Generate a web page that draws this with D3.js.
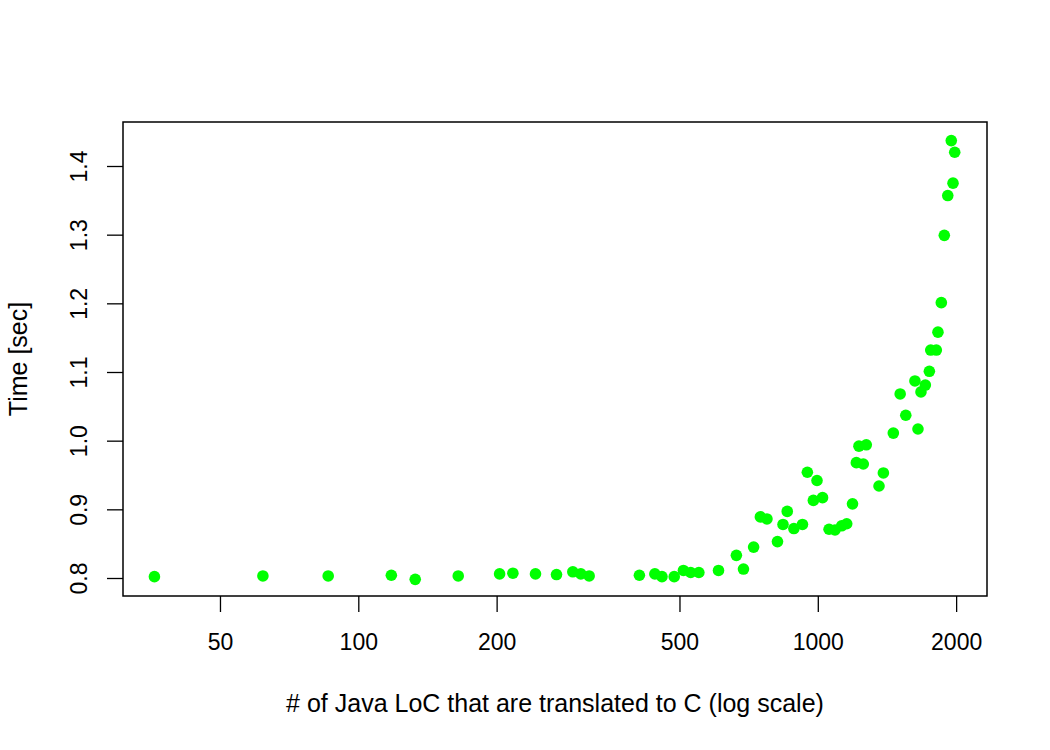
<!DOCTYPE html>
<html>
<head>
<meta charset="utf-8">
<script src="https://cdn.jsdelivr.net/npm/d3@7"></script>
<style>
  html, body { margin: 0; padding: 0; background: #fff; }
  svg { display: block; }
  text { font-family: "Liberation Sans", Arial, Helvetica, sans-serif; fill: #000; }
</style>
</head>
<body>
<svg id="chart" width="1050" height="750"></svg>
<script>
// ---- Data ----
const loc = [36, 62, 86, 118, 133, 165, 203, 217, 243, 270, 293, 305, 318,
  409, 442, 458, 487, 510, 529, 551, 608, 665, 689, 725, 750, 775, 817, 840,
  858, 887, 926, 949, 978, 996, 1024, 1058, 1090, 1127, 1156, 1190, 1213,
  1256, 1229, 1275, 1359, 1389, 1460, 1554, 1652, 1511, 1627, 1677, 1714,
  1952, 1986, 1969, 1918, 1885, 1857, 1826, 1761, 1811, 1749];
const timeSec = [0.802, 0.803, 0.803, 0.804, 0.798, 0.803, 0.806, 0.807, 0.806, 0.805, 0.809, 0.806, 0.803,
  0.804, 0.806, 0.802, 0.802, 0.811, 0.808, 0.808, 0.811, 0.833, 0.813, 0.845, 0.889, 0.886, 0.853, 0.878,
  0.897, 0.872, 0.878, 0.954, 0.913, 0.942, 0.917, 0.871, 0.870, 0.876, 0.879, 0.908, 0.968,
  0.966, 0.992, 0.994, 0.934, 0.953, 1.011, 1.037, 1.017, 1.068, 1.087, 1.071, 1.081,
  1.437, 1.420, 1.375, 1.357, 1.299, 1.201, 1.158, 1.132, 1.132, 1.101];
const xTicks = [50, 100, 200, 500, 1000, 2000];
const yTicks = [0.8, 0.9, 1.0, 1.1, 1.2, 1.3, 1.4];
const xTitle = "# of Java LoC that are translated to C (log scale)";
const yTitle = "Time [sec]";

// ---- Layout ----
const box = { left: 123, right: 987, top: 122, bottom: 596 };
const svg = d3.select("#chart");
const tickFont = 23, titleFont = 25;

// log x scale: 100 -> 358.3 px, 459.5 px per decade
const pxPerDecade = 459.5;
const x = d3.scaleLog()
  .domain([Math.pow(10, 2 - (358.3 - box.left) / pxPerDecade),
           Math.pow(10, 2 + (box.right - 358.3) / pxPerDecade)])
  .range([box.left, box.right]);

// y scale: 0.8 -> 578, 1.4 -> 166
const pxPerUnit = (578 - 166) / 0.6;
const y = d3.scaleLinear()
  .domain([0.8 - (box.bottom - 578) / pxPerUnit, 1.4 + (166 - box.top) / pxPerUnit])
  .range([box.bottom, box.top]);

// Points
svg.append("g").selectAll("circle")
  .data(loc.map((d, i) => [d, timeSec[i]]))
  .join("circle")
  .attr("cx", d => x(d[0]))
  .attr("cy", d => y(d[1]))
  .attr("r", 5.8)
  .attr("fill", "#00ff00");

// Box
svg.append("rect")
  .attr("x", box.left).attr("y", box.top)
  .attr("width", box.right - box.left).attr("height", box.bottom - box.top)
  .attr("fill", "none").attr("stroke", "#000").attr("stroke-width", 1.5);

// X axis
const xAxis = d3.axisBottom(x).tickValues(xTicks).tickFormat(d3.format("d"))
  .tickSize(16).tickPadding(0);
const gx = svg.append("g").attr("transform", `translate(0,${box.bottom})`).call(xAxis);
gx.select(".domain").remove();
gx.selectAll(".tick line").attr("stroke", "#000").attr("stroke-width", 1.3);
gx.selectAll(".tick text")
  .attr("font-size", tickFont).attr("font-family", "Liberation Sans, Arial, sans-serif").attr("fill", "#000")
  .attr("dy", null).attr("y", 650 - box.bottom);

// Y axis
const yAxis = d3.axisLeft(y).tickValues(yTicks).tickFormat(d3.format(".1f"))
  .tickSize(16);
const gy = svg.append("g").attr("transform", `translate(${box.left},0)`).call(yAxis);
gy.select(".domain").remove();
gy.selectAll(".tick line").attr("stroke", "#000").attr("stroke-width", 1.3);
gy.selectAll(".tick text")
  .attr("font-size", tickFont).attr("font-family", "Liberation Sans, Arial, sans-serif").attr("fill", "#000")
  .attr("x", null).attr("dy", null)
  .attr("text-anchor", "middle")
  .attr("transform", `translate(${86.5 - box.left},0) rotate(-90)`);

// Titles
svg.append("text")
  .attr("x", (box.left + box.right) / 2).attr("y", 711.5)
  .attr("text-anchor", "middle").attr("font-size", titleFont)
  .text(xTitle);
svg.append("text")
  .attr("transform", `translate(27,${(box.top + box.bottom) / 2}) rotate(-90)`)
  .attr("text-anchor", "middle").attr("font-size", titleFont)
  .text(yTitle);
</script>
</body>
</html>
